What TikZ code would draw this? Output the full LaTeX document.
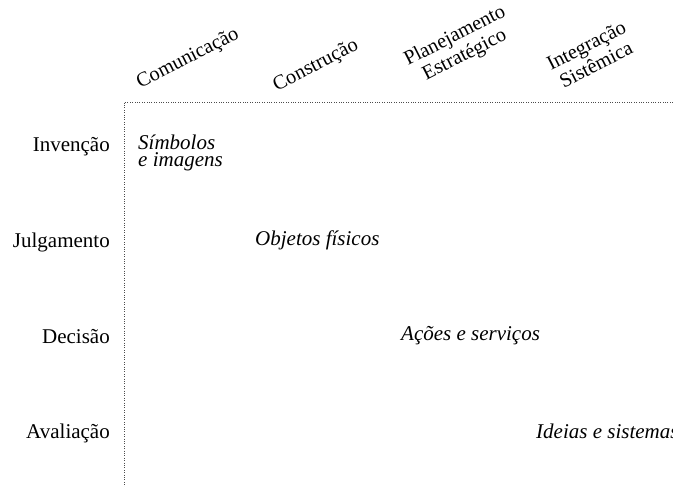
\documentclass[tikz,border=0pt]{standalone}
\usepackage{fontspec}
\setmainfont{Liberation Serif}
\usetikzlibrary{positioning}

\begin{document}
\begin{tikzpicture}[x=1pt,y=-1pt,
		row node/.style={anchor=base east,inner sep=0pt,font=\fontsize{21}{22}\selectfont},
		col node/.style={rotate=27,align=center,inner sep=0pt,font=\fontsize{20.3}{21.5}\selectfont},
		cell node/.style={anchor=base west,inner sep=0pt,align=left,font=\fontsize{21}{16.5}\selectfont\itshape},
		frame line/.style={line width=0.9pt,dash pattern=on 0.9pt off 1.5pt,black!70}]
		\useasboundingbox (0,0) rectangle (673,487);
		\coordinate (orig) at (124,102);
		\coordinate (topend) at (673,102);
		\coordinate (botend) at (124,487);
		\draw[frame line] (topend) -- (orig) -- (botend);
		% linhas
		\node[row node] (rinv) at (110,151) {Invenção};
		\node[row node] (rjul) at (110,247) {Julgamento};
		\node[row node] (rdec) at (110,343) {Decisão};
		\node[row node] (rava) at (110,438) {Avaliação};
		% colunas
		\node[col node] (ccom) at (188,59) {Comunicação};
		\node[col node] (ccon) at (316,66) {Construção};
		\node[col node] (cpla) at (460,46) {Planejamento\\Estratégico};
		\node[col node] (cint) at (591,55) {Integração\\Sistêmica};
		% celulas
		\node[cell node] (simb) at (138,166) {Símbolos\\e imagens};
		\node[cell node] (objf) at (255,245) {Objetos físicos};
		\node[cell node] (acoe) at (401,340) {Ações e serviços};
		\node[cell node] (idei) at (536,438) {Ideias e sistemas};
\end{tikzpicture}
\end{document}
